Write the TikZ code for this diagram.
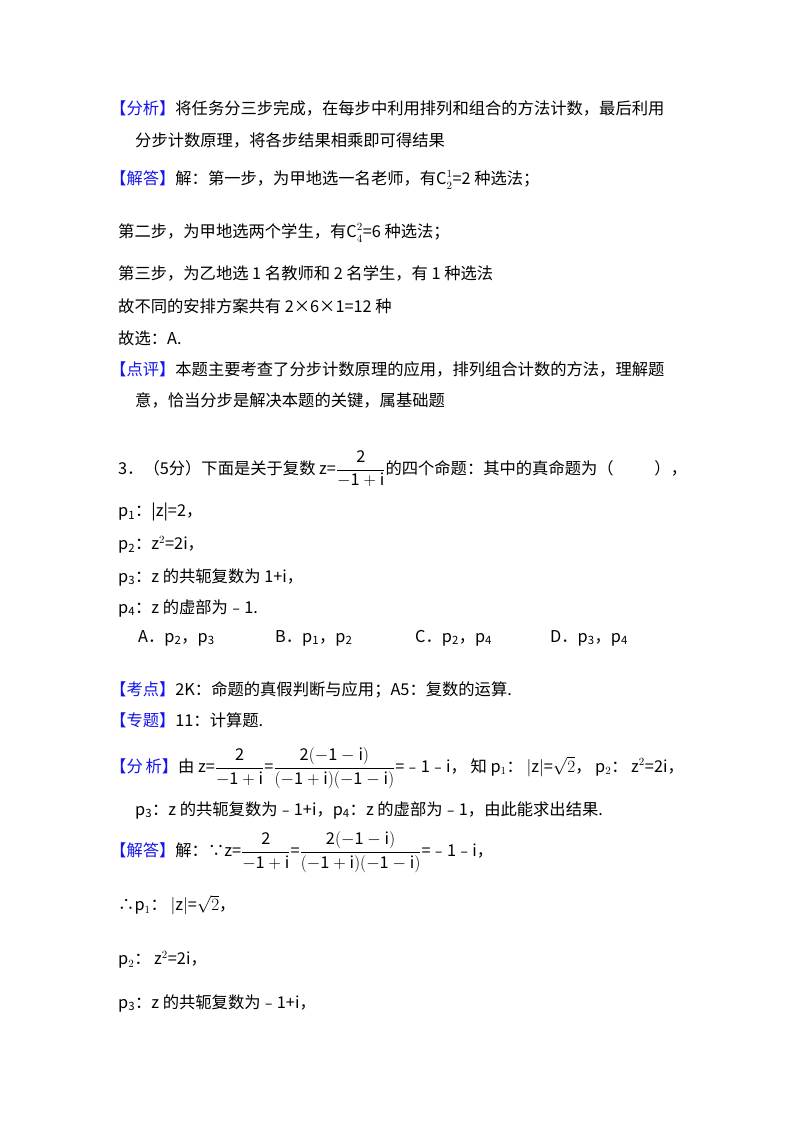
\documentclass[tikz,border=0pt]{standalone}
\usepackage{fontspec}
\setmainfont{Noto Sans CJK SC}
\definecolor{kb}{RGB}{20,20,235}
\newcommand{\tg}[1]{\textcolor{kb}{【#1】}}
\newcommand{\fr}[2]{$\displaystyle\frac{\mathrm{#1}}{\mathrm{#2}}$}
\newcommand{\cc}[2]{C\raisebox{0pt}{$\displaystyle^{#1}_{#2}$}}
\begin{document}
\begin{tikzpicture}[x=1pt,y=-1pt,every node/.style={anchor=west,inner sep=0pt,font=\fontsize{16.3}{19}\selectfont}]
\useasboundingbox[fill=white] (0,0) rectangle (800,1132);
\node (l1) at (110,108) {\tg{分析}将任务分三步完成，在每步中利用排列和组合的方法计数，最后利用};
\node (l2) at (135,140) {分步计数原理，将各步结果相乘即可得结果};
\node (l3) at (110,180) {\tg{解答}解：第一步，为甲地选一名老师，有\cc{1}{2}=2 种选法；};
\node (l4) at (118,233) {第二步，为甲地选两个学生，有\cc{2}{4}=6 种选法；};
\node (l5) at (118,273) {第三步，为乙地选 1 名教师和 2 名学生，有 1 种选法};
\node (l6) at (118,306) {故不同的安排方案共有 2×6×1=12 种};
\node (l7) at (118,338) {故选：A.};
\node (l8) at (110,369) {\tg{点评}本题主要考查了分步计数原理的应用，排列组合计数的方法，理解题};
\node (l9) at (135,400) {意，恰当分步是解决本题的关键，属基础题};
\node (q) at (118,469) {3．（5分）下面是关于复数 z=\fr{2}{-1+i}的四个命题：其中的真命题为（\hspace{2.5em}），};
\node (p1) at (118,512) {p\textsubscript{1}：|z|=2，};
\node (p2) at (118,545) {p\textsubscript{2}：z$^2$=2i，};
\node (p3) at (118,577) {p\textsubscript{3}：z 的共轭复数为 1+i，};
\node (p4) at (118,608) {p\textsubscript{4}：z 的虚部为﹣1.};
\node (oa) at (138,638) {A．p\textsubscript{2}，p\textsubscript{3}};
\node (ob) at (275,638) {B．p\textsubscript{1}，p\textsubscript{2}};
\node (oc) at (415,638) {C．p\textsubscript{2}，p\textsubscript{4}};
\node (od) at (550,638) {D．p\textsubscript{3}，p\textsubscript{4}};
\node (k1) at (110,690) {\tg{考点}2K：命题的真假判断与应用；A5：复数的运算.};
\node (k2) at (110,720) {\tg{专题}11：计算题.};
\node (a1) at (110,768) {\tg{分\,析}由 z=\fr{2}{-1+i}=\fr{2(-1-i)}{(-1+i)(-1-i)}=﹣1﹣i， 知 p$_1$： $|\mathrm{z}|$=$\sqrt{2}$， p$_2$： z$^2$=2i，};
\node (a2) at (135,810) {p\textsubscript{3}：z 的共轭复数为﹣1+i，p\textsubscript{4}：z 的虚部为﹣1，由此能求出结果.};
\node (s1) at (110,852) {\tg{解答}解：∵z=\fr{2}{-1+i}=\fr{2(-1-i)}{(-1+i)(-1-i)}=﹣1﹣i，};
\node (s2) at (118,905) {∴p$_1$： $|\mathrm{z}|$=$\sqrt{2}$，};
\node (s3) at (118,960) {p$_2$： z$^2$=2i，};
\node (s4) at (118,1003) {p\textsubscript{3}：z 的共轭复数为﹣1+i，};
\end{tikzpicture}
\end{document}
